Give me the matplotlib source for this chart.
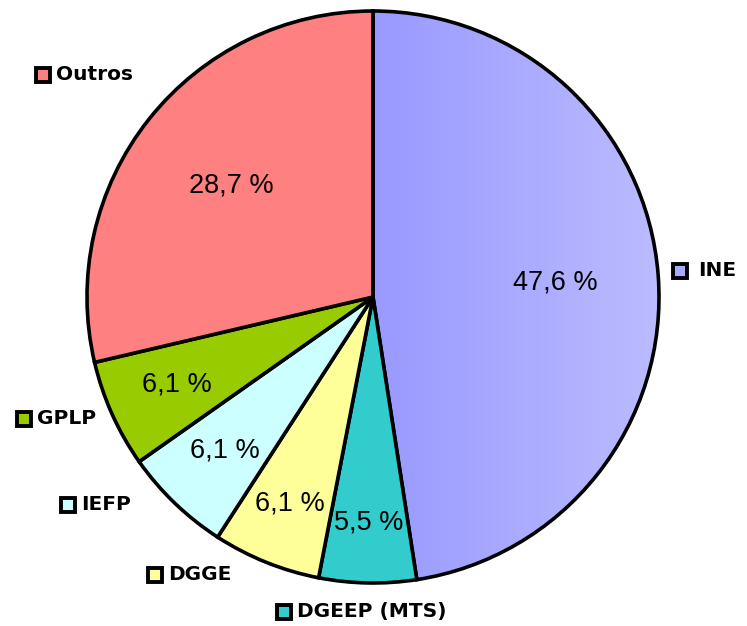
import matplotlib
matplotlib.use('Agg')
import matplotlib.pyplot as plt
import numpy as np
from matplotlib.patches import Rectangle
from matplotlib.colors import LinearSegmentedColormap

# ---- data ----
categories = ['INE', 'DGEEP (MTS)', 'DGGE', 'IEFP', 'GPLP', 'Outros']
values = [47.6, 5.5, 6.1, 6.1, 6.1, 28.7]
colors = ['#9999FF', '#33CCCC', '#FFFF99', '#CCFFFF', '#99CC00', '#FF8080']

# ---- layout (pixels) ----
W, H = 747, 626
pct_dist = [0.64, 0.79, 0.78, 0.745, 0.75, 0.63]
# marker centre x, marker centre y (from top), text left x
label_pos = [(680, 271, 698), (284, 612, 297), (155, 575, 168),
             (68, 505, 81), (24, 419, 37), (43, 75, 56)]

fig = plt.figure(figsize=(W / 100, H / 100), dpi=100)
ax = fig.add_axes([0, 0, 1, 1])
cx, cy, R = 373, H - 297, 286

wedges, _ = ax.pie(values, colors=colors, startangle=90, counterclock=False,
                   center=(cx, cy), radius=R,
                   wedgeprops=dict(edgecolor='black', linewidth=2.6, zorder=1))

# gradient on INE wedge
grad = np.linspace(0, 1, 256).reshape(1, -1)
cmap = LinearSegmentedColormap.from_list('g', ['#9999FF', '#BBBBFF'])
im = ax.imshow(grad, cmap=cmap, extent=(cx, cx + R, cy - R, cy + R),
               aspect='auto', zorder=0.5, interpolation='bicubic')
im.set_clip_path(wedges[0])
wedges[0].set_facecolor('none')

# percentage labels
for w, v, d in zip(wedges, values, pct_dist):
    mid = np.deg2rad((w.theta1 + w.theta2) / 2)
    x = cx + d * R * np.cos(mid)
    y = cy + d * R * np.sin(mid)
    ax.text(x, y, f"{v:.1f}".replace('.', ',') + " %", ha='center', va='center',
            fontsize=19.5, family=['Liberation Sans', 'DejaVu Sans'], color='black', zorder=3)

# category labels with markers
for (mx, my, tx), c, name in zip(label_pos, colors, categories):
    yy = H - my
    ax.add_patch(Rectangle((mx - 7, yy - 7), 14, 14, facecolor=c if name != 'INE' else '#AAAAFF',
                           edgecolor='black', linewidth=2.8, zorder=3))
    ax.text(tx, yy, name, ha='left', va='center', fontsize=14.5, fontweight='heavy',
            family=['DejaVu Sans'], color='black', zorder=3)

ax.set_xlim(0, W)
ax.set_ylim(0, H)
ax.set_aspect('equal')
ax.axis('off')
fig.savefig('out.png', dpi=100)
